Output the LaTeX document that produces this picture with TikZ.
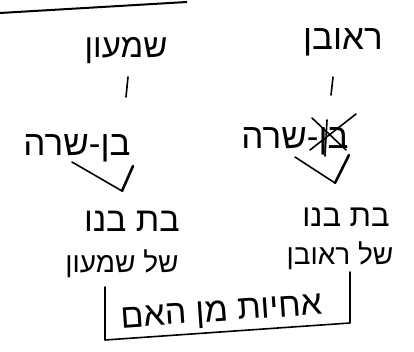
\documentclass[tikz,border=0pt]{standalone}
\usepackage{fontspec}
\newfontfamily\hebfont[Script=Hebrew]{Liberation Sans}
\TeXXeTstate=1
\newcommand{\hs}[1]{\hebfont\fontsize{#1}{#1}\selectfont}
\begin{document}
\begin{tikzpicture}[x=1pt,y=-1pt,
  heb/.style={font=\hs{28}, inner sep=0pt, anchor=base},
  pen/.style={line width=1.6pt, line cap=round, line join=round}]
\useasboundingbox (0,0) rectangle (414,352);
% top edge line
\coordinate (e1) at (0,13);
\coordinate (e2) at (187,2);
\draw[line width=2pt] (e1) -- (e2);
% names
\node[heb,font=\hs{33}] (shimon) at (126,58) {\beginR שמעון\endR};
\node[heb,font=\hs{35}] (reuven) at (343,50) {\beginR ראובן\endR};
% vertical strokes
\coordinate (l1) at (128,77); \coordinate (l2) at (126,97);
\coordinate (r1) at (333,77); \coordinate (r2) at (331,95);
\draw[pen] (l1) -- (l2);
\draw[pen] (r1) -- (r2);
% ben-sara
\node[heb,font=\hs{35}] (bsL) at (77,156) {\beginR בן-שרה\endR};
\node[heb,font=\hs{35}] (bsR) at (295,149) {\beginR בן-שרה\endR};
% cross over ben on the right
\coordinate (x1) at (312,118); \coordinate (x2) at (346,150);
\coordinate (x3) at (310,150); \coordinate (x4) at (356,114);
\coordinate (x5) at (327,120); \coordinate (x6) at (325,156);
\draw[pen] (x1) -- (x2);
\draw[pen] (x3) -- (x4);
\draw[pen] (x5) -- (x6);
% check marks
\coordinate (cL1) at (72,162); \coordinate (cL2) at (122,191); \coordinate (cL3) at (133,166);
\draw[pen] (cL1) -- (cL2);
\draw[line width=2.6pt, line cap=round] (cL2) -- (cL3);
\coordinate (cR1) at (295,157); \coordinate (cR2) at (335,183); \coordinate (cR3) at (349,155);
\draw[pen] (cR1) -- (cR2);
\draw[line width=2.6pt, line cap=round] (cR2) -- (cR3);
% bat bno
\node[heb,font=\hs{34}] (btL) at (132,232) {\beginR בת בנו\endR};
\node[heb,font=\hs{31}] (btR) at (346,227) {\beginR בת בנו\endR};
\node[heb] (shL) at (122,272) {\beginR של שמעון\endR};
\node[heb] (shR) at (340,264) {\beginR של ראובן\endR};
% box
\coordinate (b1) at (105,287); \coordinate (b2) at (105,340);
\coordinate (b3) at (350,323); \coordinate (b4) at (350,272);
\draw[pen] (b1) -- (b2) -- (b3) -- (b4);
\node[heb,font=\hs{34},rotate=4] (sis) at (222,321) {\beginR אחיות מן האם\endR};
\end{tikzpicture}
\end{document}
